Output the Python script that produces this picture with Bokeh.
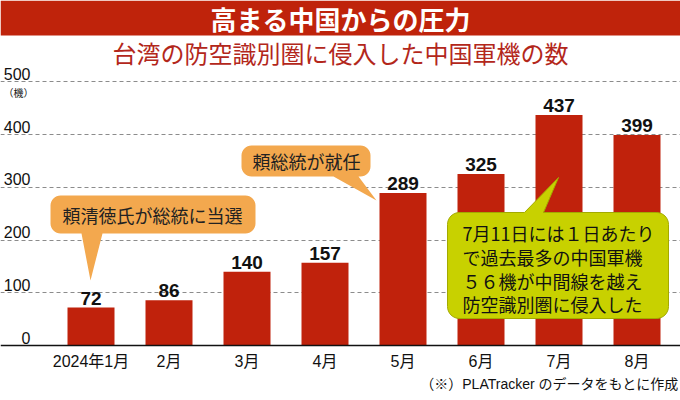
import math
from bokeh.plotting import figure
from bokeh.models import Range1d, FixedTicker, Span
from bokeh.core.properties import value
from bokeh.embed import file_html
from bokeh.resources import INLINE

# ---------------- data ----------------
months = ["2024年1月", "2月", "3月", "4月", "5月", "6月", "7月", "8月"]
counts = [72, 86, 140, 157, 289, 325, 437, 399]
y_ticks = [0, 100, 200, 300, 400, 500]
y_tick_labels = ["0", "100", "200", "300", "400", "500"]
title_text = "高まる中国からの圧力"
subtitle_text = "台湾の防空識別圏に侵入した中国軍機の数"
unit_text = "（機）"
note_text = "（※）PLATracker のデータをもとに作成"
callout1_text = "頼清徳氏が総統に当選"
callout2_text = "頼総統が就任"
callout3_lines = ["7月11日には１日あたり", "で過去最多の中国軍機", "５６機が中間線を越え", "防空識別圏に侵入した"]

# ---------------- geometry helpers ----------------
W, H = 680, 400
BAR_X0 = 90.5     # pixel centre of first bar
BAR_STEP = 78.0   # pixels between bars
ZERO_PX = 345.0   # pixel row of value 0
PX_PER_100 = 52.75

x_start = -BAR_X0 / BAR_STEP
x_end = (W - BAR_X0) / BAR_STEP
y_end = ZERO_PX / PX_PER_100 * 100
y_start = -(H - ZERO_PX) / PX_PER_100 * 100


def dx(px):
    return (px - BAR_X0) / BAR_STEP


def dy(py):
    return (ZERO_PX - py) / PX_PER_100 * 100


def callout(x0, y0, x1, y1, r, edge, b0, b1, tip, n=8):
    pts = []

    def arc(cx, cy, a0, a1):
        for k in range(n + 1):
            a = math.radians(a0 + (a1 - a0) * k / n)
            pts.append((cx + r * math.cos(a), cy + r * math.sin(a)))

    arc(x0 + r, y0 + r, 180, 270)
    if edge == "top":
        pts.extend([(b0, y0), tip, (b1, y0)])
    arc(x1 - r, y0 + r, 270, 360)
    arc(x1 - r, y1 - r, 0, 90)
    if edge == "bottom":
        pts.extend([(b1, y1), tip, (b0, y1)])
    arc(x0 + r, y1 - r, 90, 180)
    return [dx(q[0]) for q in pts], [dy(q[1]) for q in pts]


LAT = value("Liberation Sans, Noto Sans CJK JP")
CJK = value("Noto Sans CJK JP")
RED = "#bf230b"
ORANGE = "#f3a84e"
GREEN = "#c8d100"

p = figure(width=W, height=H, x_range=Range1d(x_start, x_end), y_range=Range1d(y_start, y_end),
           output_backend="svg", toolbar_location=None, min_border=0,
           outline_line_color=None, background_fill_color="white", border_fill_color="white")
p.xaxis.visible = False
p.yaxis.visible = False
p.xgrid.visible = False
p.ygrid.ticker = FixedTicker(ticks=y_ticks[1:])
p.ygrid.grid_line_color = "#8c8c8c"
p.ygrid.grid_line_dash = "4 3"
p.ygrid.grid_line_width = 1

# baseline
p.add_layout(Span(location=0, dimension="width", line_color="#111111", line_width=1.5))

# title bar
p.quad(left=[x_start], right=[x_end], top=[dy(0)], bottom=[dy(35)], color=RED, line_color=None)
p.text(x=[dx(340)], y=[dy(18)], text=[title_text], text_align="center", text_baseline="middle",
       text_color="white", text_font=CJK, text_font_style="bold", text_font_size="26px")
p.text(x=[dx(340)], y=[dy(52)], text=[subtitle_text], text_align="center", text_baseline="middle",
       text_color="#b3271b", text_font=CJK, text_font_size="24px")

# bars
idx = list(range(len(months)))
p.vbar(x=idx, top=counts, width=47 / BAR_STEP, color="#c0220c", line_color=None)
p.text(x=idx, y=counts, text=[str(c) for c in counts], text_align="center", text_baseline="bottom",
       y_offset=-3, text_color="#111111", text_font=LAT, text_font_style="bold", text_font_size="19px")

# y labels
p.text(x=[dx(30)] * len(y_ticks), y=y_ticks, text=y_tick_labels, text_align="right",
       text_baseline="bottom", y_offset=-2, text_color="#111111", text_font=LAT, text_font_size="16px")
p.text(x=[dx(3)], y=[dy(92)], text=[unit_text], text_align="left", text_baseline="middle",
       text_color="#111111", text_font=CJK, text_font_size="10px")

# x labels
p.text(x=idx, y=[dy(361)] * len(idx), text=months, text_align="center", text_baseline="middle",
       text_color="#111111", text_font=LAT, text_font_size="16px")

# footnote
p.text(x=[dx(678)], y=[dy(383)], text=[note_text], text_align="right", text_baseline="middle",
       text_color="#111111", text_font=LAT, text_font_size="14px")

# callouts
cx, cy = callout(50, 195, 255, 233, 10, "bottom", 81, 102, (90, 280))
p.patch(cx, cy, fill_color=ORANGE, line_color=None)
p.text(x=[dx(152)], y=[dy(214)], text=[callout1_text], text_align="center", text_baseline="middle",
       text_color="#222222", text_font=CJK, text_font_size="18px")

cx, cy = callout(241, 145, 370, 176, 10, "bottom", 333, 358, (376, 200))
p.patch(cx, cy, fill_color=ORANGE, line_color=None)
p.text(x=[dx(306)], y=[dy(160)], text=[callout2_text], text_align="center", text_baseline="middle",
       text_color="#222222", text_font=CJK, text_font_size="18px")

cx, cy = callout(447, 212, 668, 318, 12, "top", 524, 543, (558, 177))
p.patch(cx, cy, fill_color=GREEN, line_color="#a3aa00", line_width=1)
line_y = [232, 256, 280, 303]
p.text(x=[dx(462)] * len(callout3_lines), y=[dy(v) for v in line_y], text=callout3_lines,
       text_align="left", text_baseline="middle", text_color="#111111", text_font=CJK,
       text_font_size="18px")

open("out.html", "w").write(file_html(p, INLINE))
